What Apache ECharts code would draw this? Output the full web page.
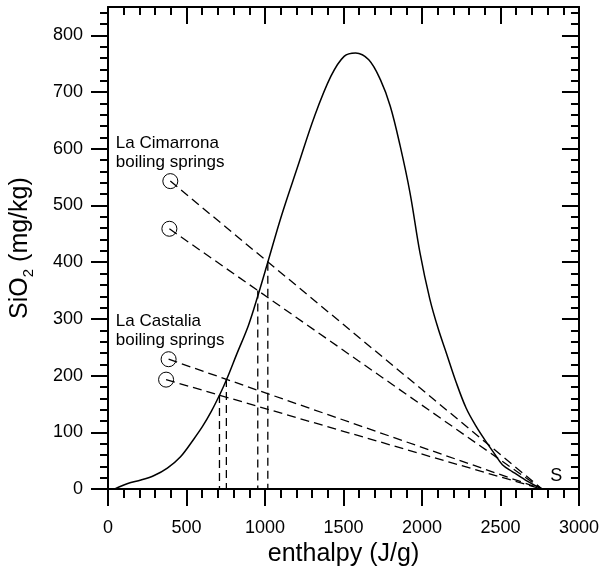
<!DOCTYPE html>
<html>
<head>
<meta charset="utf-8">
<script src="https://cdn.jsdelivr.net/npm/echarts@6/dist/echarts.min.js"></script>
<style>
html,body{margin:0;padding:0;background:#fff;}
#chart{width:602px;height:572px;}
</style>
</head>
<body>
<div id="chart"></div>
<script>
// Saturation curve: enthalpy (J/g) vs SiO2 (mg/kg)
var curveEnthalpy = [40, 126, 210, 294, 378, 462, 546, 601, 658, 716, 758, 820, 895, 958, 1021, 1105, 1210, 1315, 1420, 1504, 1577, 1661, 1735, 1798, 1861, 1924, 1987, 2050, 2103, 2155, 2218, 2281, 2344, 2407, 2460, 2512, 2575, 2659, 2765];
var curveSilica   = [0, 10, 16, 24, 37, 57, 88, 110, 137, 169, 195, 238, 289, 344, 403, 482, 570, 657, 728, 763, 769, 757, 722, 675, 605, 522, 417, 335, 283, 240, 188, 143, 111, 84, 63, 43, 31, 16, 0];

// Boiling springs (circles)
var springEnthalpy = [397, 391, 386, 370];
var springSilica   = [543, 459, 229, 193];

// Steam point S
var steamEnthalpy = 2765;
var steamSilica = 0;

// Mixing points on the curve (vertical dashed lines)
var mixEnthalpy = [1018, 954, 754, 710];
var mixSilica   = [399, 350, 194, 166];

// Text annotations
var noteText = ['La Cimarrona\nboiling springs', 'La Castalia\nboiling springs'];
var noteEnthalpy = [50, 50];
var noteSilica = [593, 279];
var steamLabel = 'S';
var steamLabelPos = [2856, 23];

// Ticks
var xMajor = [0, 500, 1000, 1500, 2000, 2500, 3000];
var xMinor = [0,100,200,300,400,500,600,700,800,900,1000,1100,1200,1300,1400,1500,1600,1700,1800,1900,2000,2100,2200,2300,2400,2500,2600,2700,2800,2900,3000];
var yMajor = [0, 100, 200, 300, 400, 500, 600, 700, 800];
var yMinor = [0,20,40,60,80,100,120,140,160,180,200,220,240,260,280,300,320,340,360,380,400,420,440,460,480,500,520,540,560,580,600,620,640,660,680,700,720,740,760,780,800,820,840];

var FONT = '"Liberation Sans", Arial, sans-serif';
var BLACK = '#000';

function plain(v) { return String(v); }

function axisBase(extra) {
  var o = {
    type: 'value', gridIndex: 0,
    splitLine: {show: false},
    axisLine: {show: false, onZero: false, lineStyle: {color: BLACK, width: 2}},
    axisLabel: {show: false},
    axisTick: {show: true, lineStyle: {color: BLACK, width: 2}}
  };
  for (var k in extra) o[k] = extra[k];
  return o;
}

var xAxes = [
  axisBase({min: 0, max: 3000, position: 'bottom',
    axisLine: {show: true, onZero: false, lineStyle: {color: BLACK, width: 2}},
    axisTick: {show: true, customValues: xMinor, length: 9, lineStyle: {color: BLACK, width: 2}}}),
  axisBase({min: 0, max: 3000, position: 'bottom',
    axisTick: {show: true, customValues: xMajor, length: 17, lineStyle: {color: BLACK, width: 2}},
    axisLabel: {show: true, customValues: xMajor, formatter: plain, margin: 30, fontSize: 18, color: BLACK, fontFamily: FONT},
    name: 'enthalpy (J/g)', nameLocation: 'middle', nameGap: 51,
    nameTextStyle: {fontSize: 25, color: BLACK, fontFamily: FONT}}),
  axisBase({min: 0, max: 3000, position: 'top',
    axisLine: {show: true, onZero: false, lineStyle: {color: BLACK, width: 2}},
    axisTick: {show: true, inside: true, customValues: xMinor, length: 8, lineStyle: {color: BLACK, width: 2}}}),
  axisBase({min: 0, max: 3000, position: 'top',
    axisTick: {show: true, inside: true, customValues: xMajor, length: 17, lineStyle: {color: BLACK, width: 2}}})
];

var yAxes = [
  axisBase({min: 0, max: 850, position: 'left',
    axisLine: {show: true, onZero: false, lineStyle: {color: BLACK, width: 2}},
    axisTick: {show: true, customValues: yMinor, length: 8, lineStyle: {color: BLACK, width: 2}}}),
  axisBase({min: 0, max: 850, position: 'left',
    axisTick: {show: true, customValues: yMajor, length: 17, lineStyle: {color: BLACK, width: 2}},
    axisLabel: {show: true, customValues: yMajor, formatter: plain, margin: 25, fontSize: 18, color: BLACK, fontFamily: FONT},
    name: '{a|SiO}{b|2}{a| (mg/kg)}', nameLocation: 'middle', nameGap: 72, nameRotate: 90,
    nameTextStyle: {color: BLACK, fontFamily: FONT, rich: {
      a: {fontSize: 25, color: BLACK, fontFamily: FONT, lineHeight: 25, padding: [0, 0, 6, 0]},
      b: {fontSize: 15, color: BLACK, fontFamily: FONT, lineHeight: 15, verticalAlign: 'bottom'}
    }}}),
  axisBase({min: 0, max: 850, position: 'right',
    axisLine: {show: true, onZero: false, lineStyle: {color: BLACK, width: 2}},
    axisTick: {show: true, inside: true, customValues: yMinor, length: 8, lineStyle: {color: BLACK, width: 2}}}),
  axisBase({min: 0, max: 850, position: 'right',
    axisTick: {show: true, inside: true, customValues: yMajor, length: 17, lineStyle: {color: BLACK, width: 2}}})
];

var series = [];
series.push({
  type: 'line', xAxisIndex: 0, yAxisIndex: 0, smooth: 0.35, symbol: 'none', silent: true,
  lineStyle: {color: BLACK, width: 1.5},
  data: curveEnthalpy.map(function (h, i) { return [h, curveSilica[i]]; }),
  z: 3
});
for (var i = 0; i < springEnthalpy.length; i++) {
  series.push({
    type: 'line', xAxisIndex: 0, yAxisIndex: 0, symbol: 'none', silent: true,
    lineStyle: {color: BLACK, width: 1.3, type: [9, 5]},
    data: [[springEnthalpy[i], springSilica[i]], [steamEnthalpy, steamSilica]]
  });
}
for (var j = 0; j < mixEnthalpy.length; j++) {
  series.push({
    type: 'line', xAxisIndex: 0, yAxisIndex: 0, symbol: 'none', silent: true,
    lineStyle: {color: BLACK, width: 1.3, type: [8, 5]},
    data: [[mixEnthalpy[j], mixSilica[j]], [mixEnthalpy[j], 0]]
  });
}
series.push({
  type: 'scatter', xAxisIndex: 0, yAxisIndex: 0, symbol: 'circle', symbolSize: 15, silent: true,
  itemStyle: {color: 'rgba(0,0,0,0)', borderColor: BLACK, borderWidth: 1, opacity: 1},
  data: springEnthalpy.map(function (h, i) { return [h, springSilica[i]]; }),
  z: 4
});
series.push({
  type: 'scatter', xAxisIndex: 0, yAxisIndex: 0, symbolSize: 0, silent: true,
  itemStyle: {opacity: 1},
  label: {show: true, position: 'right', distance: 0, color: BLACK, opacity: 1, fontSize: 17, lineHeight: 19, fontFamily: FONT,
    formatter: function (p) { return noteText[p.dataIndex]; }},
  data: noteEnthalpy.map(function (h, i) { return [h, noteSilica[i]]; })
});
series.push({
  type: 'scatter', xAxisIndex: 0, yAxisIndex: 0, symbolSize: 0, silent: true,
  itemStyle: {opacity: 1},
  label: {show: true, position: 'inside', color: BLACK, opacity: 1, fontSize: 18, fontFamily: FONT,
    formatter: function () { return steamLabel; }},
  data: [steamLabelPos]
});

var chart = echarts.init(document.getElementById('chart'), null, {renderer: 'canvas'});
chart.setOption({
  animation: false,
  backgroundColor: '#fff',
  grid: {left: 108, right: 20, top: 7, bottom: 81, containLabel: false},
  xAxis: xAxes,
  yAxis: yAxes,
  series: series
});
</script>
</body>
</html>
